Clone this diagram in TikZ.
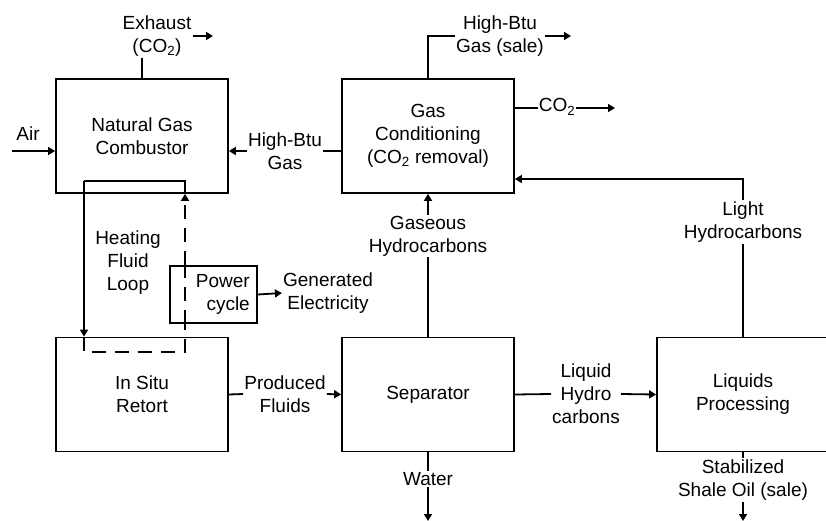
\documentclass[tikz,border=0pt]{standalone}
\usepackage{fontspec}
\setmainfont{Liberation Sans}
\usetikzlibrary{arrows.meta}
\tikzset{
  every picture/.style={x=1pt,y=-1pt},
  box/.style={draw,line width=1.8pt,minimum width=172pt,minimum height=114pt,align=center,inner sep=0pt},
  lbl/.style={align=center,inner sep=1pt},
  flow/.style={line width=1.8pt},
  arr/.style={flow,-{Triangle[length=7pt,width=8pt]}},
  loopdash/.style={flow,dash pattern=on 14pt off 9pt}
}
\begin{document}
\begin{tikzpicture}[font=\fontsize{19}{23}\selectfont]
\clip (0,0) rectangle (826,521);
\fill[white] (0,0) rectangle (826,521);
% boxes
\node[box] (comb) at (142,136) {Natural Gas\\Combustor};
\node[box] (gc) at (428,136) {Gas\\Conditioning\\(CO\textsubscript{2} removal)};
\node[box] (ret) at (142,394.5) {In Situ\\Retort};
\node[box] (sep) at (428,394.5) {Separator};
\node[box] (liq) at (743,394.5) {Liquids\\Processing};
\node[draw,line width=1.8pt,minimum width=87pt,minimum height=57pt,inner sep=0pt] (pc) at (213.5,294.5) {};
\node[lbl,anchor=east,align=right] (pct) at (251,294) {Power\\cycle};
% labels
\node[lbl] (exh) at (157,36) {Exhaust\\(CO\textsubscript{2})};
\node[lbl] (air) at (28,134) {Air};
\node[lbl] (hbg) at (285,151) {High-Btu\\Gas};
\node[lbl] (hfl) at (128,263) {Heating\\Fluid\\Loop};
\node[lbl] (ge) at (328,293) {Generated\\Electricity};
\node[lbl] (pf) at (285,394) {Produced\\Fluids};
\node[lbl] (wat) at (428,479) {Water};
\node[lbl] (lh) at (586,394) {Liquid\\Hydro\\carbons};
\node[lbl] (sso) at (743,480) {Stabilized\\Shale Oil (sale)};
\node[lbl] (gh) at (428,236) {Gaseous\\Hydrocarbons};
\node[lbl] (lhc) at (743,222) {Light\\Hydrocarbons};
\node[lbl] (hbs) at (500,36) {High-Btu\\Gas (sale)};
\node[lbl] (co2) at (557,107) {CO\textsubscript{2}};
% coordinates
\coordinate (airS) at (12,151);
\coordinate (exE) at (213,36);
\coordinate (wEnd) at (428,521);
\coordinate (sEnd) at (743,521);
\coordinate (lcTop) at (743,179);
\coordinate (hsE) at (571,36);
\coordinate (coE) at (615,108);
\coordinate (lTR) at (185,181);
\coordinate (lTL) at (84,181);
\coordinate (lBL) at (84,352);
\coordinate (lBR) at (185,352);
% connectors
\draw[flow] (comb.north) -- (comb.north |- exh.south);
\draw[arr] (exh.east) -- (exE);
\draw[arr] (airS) -- (airS -| comb.west);
\draw[flow] (gc.west |- hbg) -- (hbg.east);
\draw[arr] (hbg.west) -- (comb.east |- hbg);
\draw[flow] (lTR |- comb.south) -- (lTR) -- (lTL);
\draw[arr] (lTL) -- (lTL |- ret.north);
\draw[loopdash] (lTL |- ret.north) -- (lBL) -- (lBR) -- (lTR |- pc.south);
\draw[loopdash] (lTR |- pc.south) -- (lTR |- pc.north);
\draw[arr,dash pattern=on 14pt off 9pt] (lTR |- pc.north) -- (lTR |- comb.south);
\draw[arr] (pc.east) -- (ge.west);
\draw[flow] (ret.east) -- (pf.west);
\draw[arr] (pf.east) -- (sep.west);
\draw[flow] (sep.south) -- (wat.north);
\draw[arr] (wat.south) -- (wEnd);
\draw[flow] (sep.east) -- (lh.west);
\draw[arr] (lh.east) -- (liq.west);
\draw[flow] (liq.south) -- (sso.north);
\draw[arr] (sso.south) -- (sEnd);
\draw[flow] (sep.north) -- (gh.south);
\draw[arr] (gh.north) -- (gc.south);
\draw[flow] (liq.north) -- (lhc.south);
\draw[arr] (lhc.north) -- (lcTop) -- (lcTop -| gc.east);
\draw[flow] (gc.north) -- (gc.north |- hbs) -- (hbs.west);
\draw[arr] (hbs.east) -- (hsE);
\draw[flow] (gc.east |- coE) -- (co2.west |- coE);
\draw[arr] (co2.east |- coE) -- (coE);
\end{tikzpicture}
\end{document}
